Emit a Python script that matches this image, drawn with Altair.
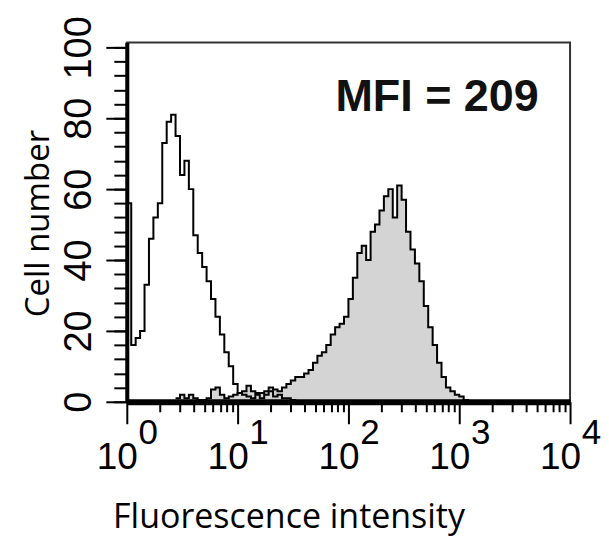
import altair as alt
import pandas as pd

# ---- data ----
BIN = 0.04  # channel width in decades
open_start = 0.0
open_counts = [56, 16, 18, 20, 33, 46, 52, 56, 73, 79, 81, 75, 64, 68, 60, 47, 42, 38,
               34, 29, 24, 19, 14, 10, 5, 2.5, 2, 1.5, 1, 2, 1, 2, 3, 1.5, 2, 1, 1, 0.5, 0]
filled_start = 0.44
filled_counts = [1, 2, 1, 2, 1, 0.5, 0.5, 1, 3.5, 4, 2, 1, 1.5, 2, 2.5, 3, 4.5, 3, 2.5,
                 2.5, 3, 4, 3.5, 3, 4, 5, 6, 7, 7, 8, 9, 11, 13, 14, 16, 19, 21, 22, 24,
                 29, 35, 42, 44, 40, 48, 50, 54, 58, 60, 52, 61, 57, 48, 43, 39, 34, 27,
                 21, 16, 11, 7, 4, 3, 2, 1.5, 0.5, 0]
decades = [1, 10, 100, 1000, 10000]
minor_mult = [2, 3, 4, 5, 6, 7, 8, 9]
y_major = [0, 20, 40, 60, 80, 100]
y_minor = list(range(0, 101, 4))
mfi_label = ["MFI = 209"]
mfi_x = [631]
mfi_y = [82]
x_title = "Fluorescence intensity"
y_title = "Cell number"


def frame(start, counts):
    return pd.DataFrame({
        "x": [10 ** (start + i * BIN) for i in range(len(counts))],
        "count": counts,
    })


df_open = frame(open_start, open_counts)
df_filled = frame(filled_start, filled_counts)
df_text = pd.DataFrame({"x": mfi_x, "y": mfi_y, "label": mfi_label})
minor_x = [d * m for d in decades[:-1] for m in minor_mult]

xscale = alt.Scale(type="log", domain=[1, 10000], nice=False)
yscale = alt.Scale(domain=[0, 101.4], nice=False)

LABEL_FONT = "Liberation Sans"
TITLE_FONT = "Open Sans"

x_minor_axis = alt.Axis(orient="bottom", values=minor_x, labels=False, ticks=True,
                        tickSize=10, tickWidth=2, tickColor="black", domain=True,
                        domainWidth=6, domainColor="black", grid=False, title=None,
                        zindex=1)
y_minor_axis = alt.Axis(orient="left", values=y_minor, labels=False, ticks=True,
                        tickSize=13, tickWidth=2, tickColor="black", domain=True,
                        domainWidth=4, domainColor="black", grid=False, title=None,
                        zindex=1)
x_major_axis = alt.Axis(orient="bottom", values=decades, ticks=True, tickSize=22,
                        tickWidth=2, tickColor="black", domain=False, grid=False,
                        labelExpr="'10'", labelOffset=-10, labelPadding=16,
                        labelFontSize=37, labelFont=LABEL_FONT, labelColor="black",
                        labelFlush=False, title=None, zindex=1)
x_exp_axis = alt.Axis(orient="bottom", values=decades, ticks=False, tickSize=0,
                      domain=False, grid=False,
                      labelExpr="'' + round(log(datum.value) / LN10)",
                      labelOffset=21, labelPadding=14, labelFontSize=35,
                      labelFont=LABEL_FONT, labelColor="black", labelFlush=False,
                      title=x_title, titleFont=TITLE_FONT, titleFontSize=34,
                      titleFontWeight="normal", titleColor="black", titleX=162,
                      titleY=126, titleAlign="center", titleBaseline="alphabetic",
                      zindex=1)
y_major_axis = alt.Axis(orient="left", values=y_major, ticks=True, tickSize=21,
                        tickWidth=2, tickColor="black", domain=False, grid=False,
                        labelAngle=270, labelAlign="center", labelBaseline="alphabetic",
                        labelPadding=15, labelFontSize=38, labelFont=LABEL_FONT,
                        labelColor="black", labelFlush=False,
                        title=y_title, titleFont=TITLE_FONT, titleFontSize=33,
                        titleFontWeight="normal", titleColor="black", titleAngle=270,
                        titleX=-78, titleY=181, titleAlign="center",
                        titleBaseline="alphabetic", zindex=1)

area = alt.Chart(df_filled).mark_area(interpolate="step-after", color="#d4d4d4").encode(
    x=alt.X("x:Q", scale=xscale, axis=x_minor_axis),
    y=alt.Y("count:Q", scale=yscale, axis=y_minor_axis),
)
filled_line = alt.Chart(df_filled).mark_line(
    interpolate="step-after", color="black", strokeWidth=2).encode(
    x=alt.X("x:Q", scale=xscale, axis=x_exp_axis),
    y=alt.Y("count:Q", scale=yscale, axis=None),
)
open_line = alt.Chart(df_open).mark_line(
    interpolate="step-after", color="black", strokeWidth=2).encode(
    x=alt.X("x:Q", scale=xscale, axis=x_major_axis),
    y=alt.Y("count:Q", scale=yscale, axis=y_major_axis),
)
mfi = alt.Chart(df_text).mark_text(
    font=LABEL_FONT, fontSize=45, fontWeight="bold", align="center",
    baseline="alphabetic", color="#111").encode(
    x=alt.X("x:Q", scale=xscale, axis=None),
    y=alt.Y("y:Q", scale=yscale, axis=None),
    text="label:N",
)

chart = alt.layer(area, filled_line, open_line, mfi).resolve_axis(
    x="independent", y="independent"
).properties(
    width=444, height=360,
    autosize=alt.AutoSizeParams(type="none"),
    padding={"left": 119, "top": 34, "right": 31, "bottom": 136},
).configure_view(stroke="#333", strokeWidth=2)

chart.save("out.html", embed_options={"renderer": "svg", "actions": False})
